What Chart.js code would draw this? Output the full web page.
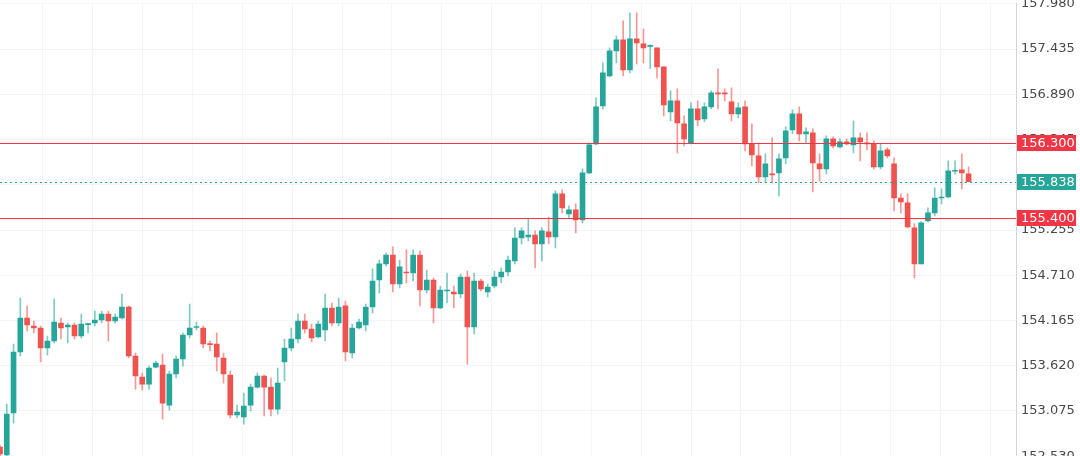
<!DOCTYPE html>
<html lang="en">
<head>
<meta charset="utf-8"/>
<title>Candles</title>
<style>
  html, body { margin: 0; padding: 0; background: #fff; }
  #frame { position: relative; width: 1080px; height: 456px; overflow: hidden; }
  #box { position: absolute; left: 0; top: -9px; width: 1080px; height: 478px; }
</style>
</head>
<body>
<div id="frame"><div id="box"><canvas id="chart"></canvas></div></div>
<script src="https://cdn.jsdelivr.net/npm/chart.js@4"></script>
<script>
// OHLC, oldest first
const open = [
  152.640, 152.544, 153.050, 153.785, 154.195, 154.098, 154.074, 153.833, 153.918, 154.135,
  154.086, 154.111, 153.978, 154.115, 154.135, 154.171, 154.243, 154.159, 154.195, 154.327,
  153.737, 153.484, 153.399, 153.604, 153.628, 153.146, 153.520, 153.701, 153.990, 154.080,
  154.074, 153.882, 153.882, 153.713, 153.508, 153.026, 153.002, 153.146, 153.363, 153.496,
  153.363, 153.098, 153.665, 153.833, 153.942, 154.159, 154.062, 153.966, 154.050, 154.315,
  154.135, 154.340, 153.773, 154.074, 154.111, 154.327, 154.653, 154.846, 154.954, 154.605,
  154.749, 154.737, 154.954, 154.532, 154.653, 154.315, 154.520, 154.508, 154.484, 154.689,
  154.086, 154.641, 154.508, 154.580, 154.689, 154.749, 154.882, 155.159, 155.171, 155.195,
  155.087, 155.232, 155.171, 155.690, 155.449, 155.497, 155.376, 155.943, 156.292, 156.750,
  157.112, 157.413, 157.546, 157.184, 157.558, 157.498, 157.468, 157.449, 157.220, 156.678,
  156.811, 156.533, 156.304, 156.714, 156.594, 156.738, 156.907, 156.907, 156.799, 156.654,
  156.738, 156.292, 156.148, 155.895, 155.931, 155.943, 156.124, 156.461, 156.654, 156.413,
  156.425, 156.051, 155.991, 156.353, 156.256, 156.316, 156.280, 156.365, 156.298, 156.292,
  156.015, 156.220, 156.051, 155.641, 155.581, 155.280, 154.846, 155.364, 155.461, 155.641,
  155.653, 155.963, 155.979, 155.931
];
const high = [
  152.664, 153.158, 153.882, 154.436, 154.340, 154.159, 154.098, 153.978, 154.424, 154.195,
  154.135, 154.135, 154.243, 154.135, 154.279, 154.279, 154.279, 154.243, 154.484, 154.340,
  153.773, 153.532, 153.616, 153.677, 153.761, 153.556, 153.737, 154.014, 154.364, 154.147,
  154.098, 153.918, 154.014, 153.773, 153.556, 153.146, 153.291, 153.399, 153.532, 153.508,
  153.472, 153.592, 153.942, 154.074, 154.243, 154.243, 154.123, 154.159, 154.484, 154.376,
  154.436, 154.400, 154.123, 154.183, 154.364, 154.786, 154.894, 154.978, 155.051, 154.894,
  155.015, 155.015, 155.003, 154.773, 154.677, 154.580, 154.737, 154.580, 154.725, 154.761,
  154.737, 154.665, 154.605, 154.761, 154.798, 154.942, 155.280, 155.280, 155.388, 155.244,
  155.280, 155.412, 155.726, 155.738, 155.545, 155.569, 155.991, 156.304, 156.847, 157.269,
  157.449, 157.594, 157.775, 157.871, 157.871, 157.679, 157.486, 157.449, 157.220, 156.931,
  156.955, 156.630, 156.787, 156.811, 156.787, 156.931, 157.196, 156.955, 156.967, 156.787,
  156.811, 156.533, 156.304, 156.172, 156.365, 156.172, 156.497, 156.702, 156.738, 156.485,
  156.473, 156.172, 156.389, 156.377, 156.353, 156.353, 156.570, 156.425, 156.425, 156.328,
  156.292, 156.244, 156.124, 155.690, 155.690, 155.328, 155.352, 155.521, 155.762, 155.750,
  156.087, 156.087, 156.172, 156.015
];
const low = [
  152.520, 152.520, 152.929, 153.737, 154.038, 154.014, 153.665, 153.749, 153.894, 153.942,
  153.894, 153.942, 153.954, 154.014, 154.098, 154.135, 153.918, 154.135, 154.183, 153.713,
  153.339, 153.327, 153.339, 153.592, 152.977, 153.086, 153.472, 153.616, 153.954, 154.050,
  153.833, 153.797, 153.556, 153.411, 152.990, 152.990, 152.917, 153.074, 153.351, 153.014,
  153.014, 153.038, 153.436, 153.797, 153.894, 154.014, 153.906, 153.954, 153.918, 154.098,
  154.098, 153.677, 153.713, 154.062, 154.038, 154.255, 154.496, 154.822, 154.508, 154.556,
  154.617, 154.641, 154.340, 154.496, 154.135, 154.303, 154.376, 154.315, 154.436, 153.640,
  154.002, 154.520, 154.448, 154.556, 154.617, 154.701, 154.846, 155.087, 155.123, 154.798,
  154.882, 155.087, 155.039, 155.461, 155.400, 155.219, 155.340, 155.931, 156.280, 156.714,
  157.100, 157.269, 157.112, 157.148, 157.257, 157.269, 157.196, 157.088, 156.630, 156.570,
  156.184, 156.268, 156.292, 156.509, 156.558, 156.714, 156.714, 156.811, 156.570, 156.606,
  156.208, 156.027, 155.822, 155.822, 155.822, 155.666, 156.051, 156.413, 156.328, 156.304,
  155.714, 155.846, 155.931, 156.244, 156.244, 156.280, 156.184, 156.087, 156.220, 155.991,
  155.991, 156.124, 155.485, 155.461, 155.280, 154.677, 154.846, 155.352, 155.424, 155.569,
  155.641, 155.931, 155.750, 155.834
];
const close = [
  152.556, 153.038, 153.785, 154.195, 154.111, 154.074, 153.833, 153.918, 154.147, 154.074,
  154.111, 153.978, 154.123, 154.123, 154.171, 154.243, 154.159, 154.207, 154.327, 153.737,
  153.496, 153.399, 153.592, 153.652, 153.170, 153.520, 153.701, 153.990, 154.074, 154.086,
  153.882, 153.875, 153.725, 153.520, 153.026, 153.062, 153.134, 153.363, 153.496, 153.363,
  153.098, 153.411, 153.833, 153.942, 154.159, 154.062, 153.954, 154.123, 154.315, 154.135,
  154.327, 153.785, 154.074, 154.147, 154.327, 154.641, 154.846, 154.954, 154.605, 154.810,
  154.737, 154.954, 154.532, 154.653, 154.315, 154.532, 154.522, 154.484, 154.689, 154.086,
  154.641, 154.544, 154.568, 154.689, 154.749, 154.894, 155.159, 155.244, 155.195, 155.087,
  155.244, 155.171, 155.690, 155.521, 155.497, 155.376, 155.943, 156.280, 156.738, 157.148,
  157.413, 157.546, 157.184, 157.558, 157.510, 157.449, 157.474, 157.220, 156.762, 156.811,
  156.545, 156.353, 156.714, 156.582, 156.738, 156.907, 156.895, 156.895, 156.654, 156.726,
  156.292, 156.160, 155.895, 156.051, 155.919, 156.111, 156.449, 156.654, 156.413, 156.437,
  156.063, 155.991, 156.353, 156.268, 156.316, 156.292, 156.365, 156.316, 156.292, 156.015,
  156.208, 156.148, 155.641, 155.593, 155.292, 154.846, 155.340, 155.461, 155.641, 155.653,
  155.967, 155.967, 155.943, 155.838
];

const emptySlots = 7;             // blank space right of the last candle
const levels = [156.300, 155.400]; // horizontal red lines
const lastPrice = 155.838;
const yTicks = [152.530, 153.075, 153.620, 154.165, 154.710, 155.255, 155.800, 156.345, 156.890, 157.435, 157.980];

const upColor = '#26a69a';
const downColor = '#ef5350';
const upWick = 'rgba(38,166,154,0.6)';
const downWick = 'rgba(239,83,80,0.6)';
const lineRed = '#f23645';

const labels = open.map((_, i) => String(i));
for (let k = 0; k < emptySlots; k++) labels.push('');
const isUp = open.map((o, i) => close[i] >= o);

const priceLines = {
  id: 'priceLines',
  afterDatasetsDraw(chart) {
    const { ctx, chartArea: a, scales: { y } } = chart;
    ctx.save();
    ctx.lineWidth = 1;
    ctx.strokeStyle = lineRed;
    levels.forEach(v => {
      const py = Math.round(y.getPixelForValue(v)) + 0.5;
      ctx.beginPath(); ctx.moveTo(a.left, py); ctx.lineTo(a.right, py); ctx.stroke();
    });
    ctx.setLineDash([2, 3]);
    ctx.strokeStyle = upColor;
    const py = Math.round(y.getPixelForValue(lastPrice)) + 0.5;
    ctx.beginPath(); ctx.moveTo(a.left, py); ctx.lineTo(a.right, py); ctx.stroke();
    ctx.restore();
  },
  afterDraw(chart) {
    const { ctx, chartArea: a, scales: { y } } = chart;
    const tags = levels.map(v => [v, lineRed]).concat([[lastPrice, upColor]]);
    ctx.save();
    ctx.font = '13px "DejaVu Sans"';
    ctx.textBaseline = 'middle';
    ctx.textAlign = 'left';
    tags.forEach(([v, c]) => {
      const py = Math.round(y.getPixelForValue(v));
      ctx.fillStyle = c;
      ctx.fillRect(a.right + 1, py - 8, 59, 16);
      ctx.fillStyle = '#fff';
      ctx.fillText(v.toFixed(3), a.right + 5, py + 1);
    });
    ctx.restore();
  }
};

new Chart(document.getElementById('chart'), {
  type: 'bar',
  data: {
    labels,
    datasets: [
      {
        label: 'body',
        data: open.map((o, i) => [o, close[i]]),
        backgroundColor: isUp.map(u => u ? upColor : downColor),
        barThickness: 5,
        minBarLength: 1,
        grouped: false,
        order: 1
      },
      {
        label: 'wick',
        data: low.map((l, i) => [l, high[i]]),
        backgroundColor: isUp.map(u => u ? upWick : downWick),
        barThickness: 1,
        grouped: false,
        order: 2
      }
    ]
  },
  options: {
    responsive: true,
    maintainAspectRatio: false,
    animation: false,
    layout: { padding: 0 },
    plugins: { legend: { display: false }, tooltip: { enabled: false } },
    scales: {
      x: { type: 'category', offset: false, display: false, grid: { offset: false } },
      xg: {
        type: 'linear', position: 'bottom', min: 0, max: open.length + emptySlots - 1,
        afterBuildTicks: s => {
          const t = [];
          for (let v = 6.4; v < s.max; v += 7.77) t.push({ value: v });
          s.ticks = t;
        },
        ticks: { display: false },
        border: { display: false },
        grid: { color: '#f3f4f6', drawTicks: false }
      },
      y: {
        position: 'right',
        min: yTicks[0],
        max: yTicks[yTicks.length - 1],
        afterBuildTicks: s => { s.ticks = yTicks.map(v => ({ value: v })); },
        afterFit: s => { s.width = 64; },
        ticks: {
          padding: 5,
          color: '#4a4a4a',
          font: { family: 'DejaVu Sans', size: 13 },
          callback: v => Number(v).toFixed(3)
        },
        border: { color: '#d4d4d4' },
        grid: { color: '#f3f4f6', drawTicks: false }
      }
    }
  },
  plugins: [priceLines]
});
</script>
</body>
</html>
